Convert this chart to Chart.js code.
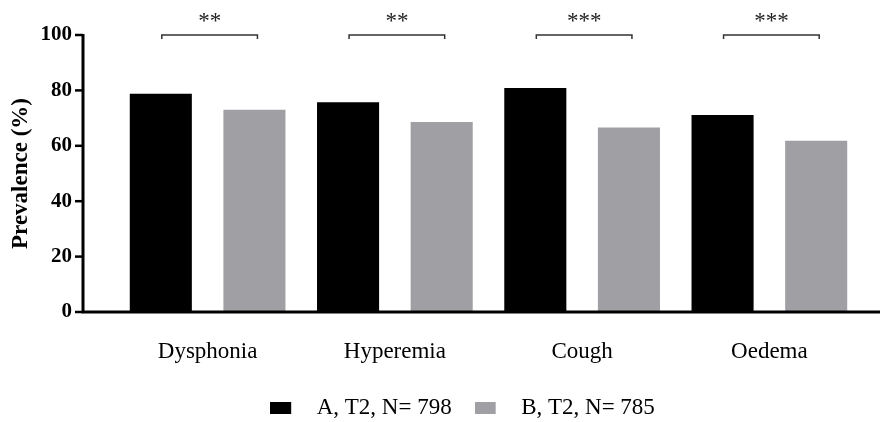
<!DOCTYPE html>
<html>
<head>
<meta charset="utf-8">
<script src="https://cdn.jsdelivr.net/npm/chart.js@4/dist/chart.umd.min.js"></script>
<style>
  html, body { margin: 0; padding: 0; background: #fff; }
</style>
</head>
<body>
<canvas id="myChart" width="885" height="422"></canvas>
<script>
var categories = ["Dysphonia", "Hyperemia", "Cough", "Oedema"];
var groupA = [78.8, 75.7, 80.9, 71.1];
var groupB = [73.0, 68.6, 66.6, 61.8];
var stars = ["**", "**", "***", "***"];
var yTicks = [0, 20, 40, 60, 80, 100];
var serif = "'Liberation Serif', 'Times New Roman', serif";

// legend swatch: filled box on the left, empty space on the right
function swatch(color) {
  var c = document.createElement("canvas");
  c.width = 35;
  c.height = 12;
  var g = c.getContext("2d");
  g.fillStyle = color;
  g.fillRect(0, 0, 21, 12);
  return c;
}

// axis lines, tick marks and significance brackets
var axesPlugin = {
  id: "axes",
  afterLayout: function (chart) {
    chart.legend.left += 31;
    chart.legend.right += 31;
  },
  afterDraw: function (chart) {
    var ctx = chart.ctx;
    var area = chart.chartArea;
    var y = chart.scales.y;
    var axisX = 83;
    var top = y.getPixelForValue(100);
    ctx.save();
    ctx.strokeStyle = "#000";
    ctx.lineWidth = 3;
    ctx.beginPath();
    ctx.moveTo(axisX, top - 1);
    ctx.lineTo(axisX, area.bottom);
    ctx.lineTo(880, area.bottom);
    ctx.stroke();
    ctx.lineWidth = 2.5;
    yTicks.forEach(function (v) {
      var py = y.getPixelForValue(v);
      ctx.beginPath();
      ctx.moveTo(axisX - 8, py);
      ctx.lineTo(axisX, py);
      ctx.stroke();
    });

    var metaA = chart.getDatasetMeta(0);
    var metaB = chart.getDatasetMeta(1);
    ctx.strokeStyle = "#333";
    ctx.fillStyle = "#222";
    ctx.lineWidth = 1.5;
    ctx.font = "23px " + serif;
    ctx.textAlign = "center";
    ctx.textBaseline = "alphabetic";
    stars.forEach(function (s, i) {
      var x1 = metaA.data[i].x + 1;
      var x2 = metaB.data[i].x + 3;
      ctx.beginPath();
      ctx.moveTo(x1, top + 4);
      ctx.lineTo(x1, top);
      ctx.lineTo(x2, top);
      ctx.lineTo(x2, top + 4);
      ctx.stroke();
      ctx.fillText(s, (x1 + x2) / 2, top - 7);
    });
    ctx.restore();
  }
};

new Chart("myChart", {
  type: "bar",
  data: {
    labels: categories,
    datasets: [
      {
        label: "A, T2, N= 798",
        data: groupA,
        backgroundColor: "#000000",
        pointStyle: swatch("#000000"),
        barPercentage: 0.663,
        categoryPercentage: 1.0,
      },
      {
        label: "B, T2, N= 785",
        data: groupB,
        backgroundColor: "#a0a0a4",
        pointStyle: swatch("#a0a0a4"),
        barPercentage: 0.663,
        categoryPercentage: 1.0,
      },
    ],
  },
  options: {
    responsive: false,
    animation: false,
    devicePixelRatio: 1,
    layout: { padding: { top: 35, right: 22, left: 0, bottom: -7.5 } },
    plugins: {
      tooltip: { enabled: false },
      legend: {
        position: "bottom",
        labels: {
          usePointStyle: true,
          pointStyleWidth: 35,
          boxHeight: 12,
          padding: 23,
          color: "#000",
          font: { family: serif, size: 23 },
        },
      },
    },
    scales: {
      x: {
        grid: { display: false, drawTicks: false },
        border: { display: false },
        ticks: { color: "#000", padding: 26, font: { family: serif, size: 23 } },
        afterFit: function (s) { s.height = 61.5; },
      },
      y: {
        min: 0,
        max: 100,
        afterFit: function (s) { s.width = 114; },
        afterBuildTicks: function (s) {
          s.ticks = yTicks.map(function (v) { return { value: v }; });
        },
        grid: { display: false, drawTicks: true, tickLength: 42 },
        border: { display: false },
        ticks: { color: "#000", padding: 0, font: { family: serif, size: 21, weight: "bold" } },
        title: {
          display: true,
          text: "Prevalence (%)",
          color: "#000",
          padding: { top: 7, bottom: 0 },
          font: { family: serif, size: 23, weight: "bold" },
        },
      },
    },
  },
  plugins: [axesPlugin],
});
</script>
</body>
</html>
